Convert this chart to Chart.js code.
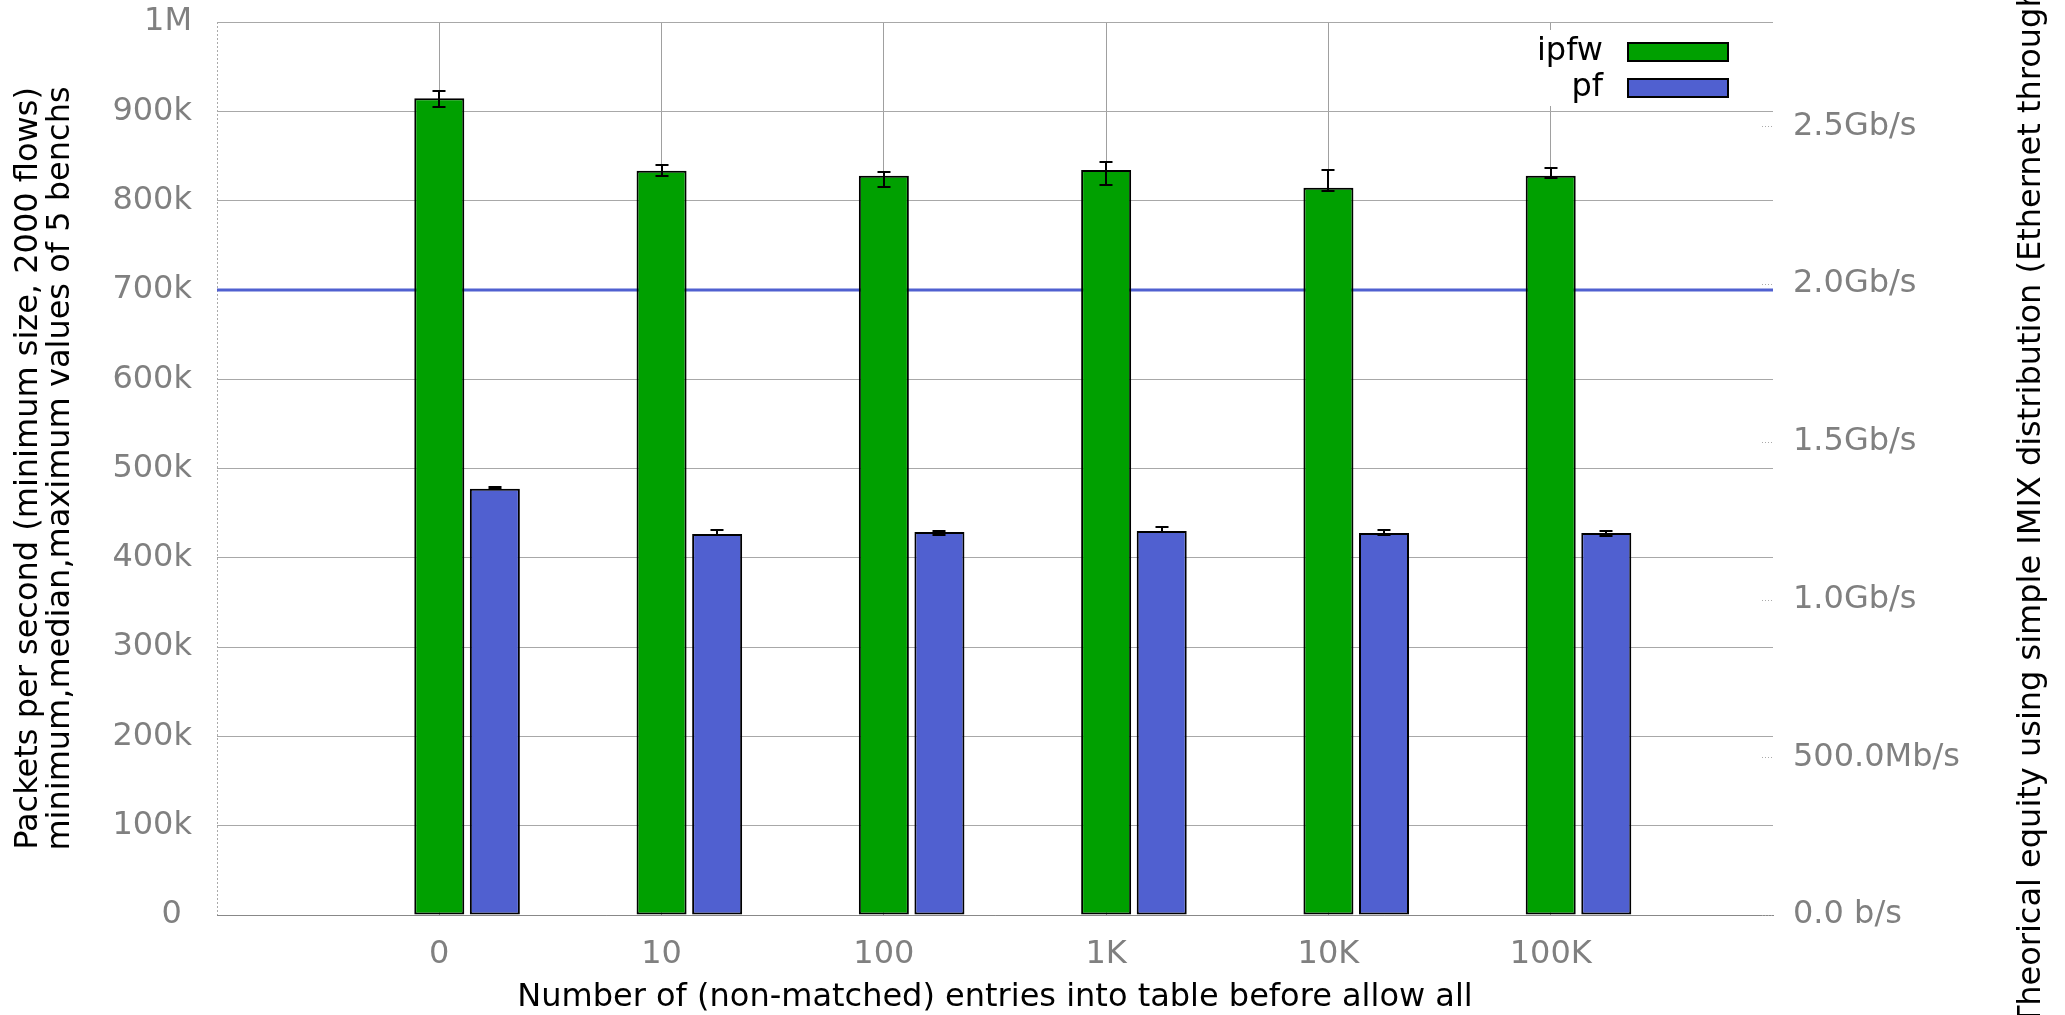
<!DOCTYPE html>
<html>
<head>
<meta charset="utf-8">
<script src="https://cdn.jsdelivr.net/npm/chart.js@4"></script>
<style>
  html, body { margin: 0; padding: 0; background: #fff; }
  canvas { display: block; }
</style>
</head>
<body>
<canvas id="chart" width="2065" height="1015"></canvas>
<script>
// table sizes (x axis)
const categories = ['0', '10', '100', '1K', '10K', '100K'];

// packets per second, median / min / max of 5 benchs
const ipfwMedian = [914600, 833500, 827900, 834300, 814500, 827900];
const ipfwMin    = [905200, 827900, 815600, 817500, 811100, 825600];
const ipfwMax    = [923100, 839500, 832400, 842900, 834300, 836900];
const pfMedian   = [477400, 426700, 428900, 430000, 427800, 427800];
const pfMin      = [477000, 425500, 425900, 429000, 425200, 424400];
const pfMax      = [478900, 431100, 430400, 434200, 431100, 430000];

const ppsTickLabels = ['0 ', '100k', '200k', '300k', '400k', '500k', '600k', '700k', '800k', '900k', '1M'];
const rateTickValues = [0, 0.5e9, 1e9, 1.5e9, 2e9, 2.5e9];
const rateTickLabels = ['0.0 b/s', '500.0Mb/s', '1.0Gb/s', '1.5Gb/s', '2.0Gb/s', '2.5Gb/s'];

const rateLimitPps = 700000;         // blue reference line
const imixBitsPerPacket = 2830.67;   // simple IMIX average frame size in bits

const GREEN = '#00a000';
const BLUE = '#5060d0';
const GRAY = '#808080';
const FONT = 'DejaVu Sans';
const pfShift = 0.25;

// fixed box sizes so the plot area lands where the original one is
function fixBox(size) {
  return s => {
    if (s.isHorizontal()) s.height = size; else s.width = size;
    s.paddingTop = 0; s.paddingBottom = 0; s.paddingLeft = 0; s.paddingRight = 0;
  };
}

const errorBars = {
  id: 'errorBars',
  afterDatasetsDraw(chart) {
    const ctx = chart.ctx;
    const y = chart.scales.y;
    ctx.save();
    ctx.strokeStyle = '#000';
    ctx.lineWidth = 2;
    chart.data.datasets.forEach((ds, d) => {
      const meta = chart.getDatasetMeta(d);
      meta.data.forEach((bar, i) => {
        const top = Math.round(y.getPixelForValue(ds.errMax[i]));
        const bot = Math.round(y.getPixelForValue(ds.errMin[i]));
        const x = Math.round(bar.x);
        ctx.beginPath();
        ctx.moveTo(x, top); ctx.lineTo(x, bot);
        ctx.moveTo(x - 6.5, top); ctx.lineTo(x + 6.5, top);
        ctx.moveTo(x - 6.5, bot); ctx.lineTo(x + 6.5, bot);
        ctx.stroke();
      });
    });
    ctx.restore();
  }
};

const refLine = {
  id: 'refLine',
  beforeDatasetsDraw(chart) {
    const {ctx, chartArea} = chart;
    ctx.save();
    // dotted left border of the plot
    ctx.strokeStyle = '#aaa';
    ctx.lineWidth = 1;
    ctx.setLineDash([2, 2]);
    ctx.beginPath();
    ctx.moveTo(chartArea.left + 0.5, chartArea.top);
    ctx.lineTo(chartArea.left + 0.5, chartArea.bottom);
    ctx.stroke();
    // small dotted marks for the right axis
    const y2 = chart.scales.y2;
    ctx.setLineDash([1, 2]);
    y2.ticks.forEach(t => {
      const py = Math.round(y2.getPixelForValue(t.value)) + 0.5;
      ctx.beginPath();
      ctx.moveTo(chartArea.right - 11, py);
      ctx.lineTo(chartArea.right, py);
      ctx.stroke();
    });
    ctx.setLineDash([]);
    const y = chart.scales.y.getPixelForValue(rateLimitPps);
    ctx.strokeStyle = BLUE;
    ctx.lineWidth = 3;
    ctx.beginPath();
    ctx.moveTo(chartArea.left, y);
    ctx.lineTo(chartArea.right, y);
    ctx.stroke();
    ctx.restore();
  }
};

const sideLegend = {
  id: 'sideLegend',
  afterDraw(chart) {
    const {ctx, chartArea} = chart;
    ctx.save();
    ctx.fillStyle = '#fff';
    ctx.fillRect(chartArea.right - 240, chartArea.top + 8, 208, 76);
    ctx.font = '32px "' + FONT + '"';
    ctx.textAlign = 'right';
    ctx.textBaseline = 'middle';
    chart.data.datasets.forEach((ds, d) => {
      const cy = chartArea.top + 30 + d * 36;
      ctx.fillStyle = '#000';
      ctx.fillText(ds.label, chartArea.right - 170, cy);
      ctx.fillStyle = ds.backgroundColor;
      ctx.fillRect(chartArea.right - 145, cy - 9, 100, 18);
      ctx.strokeStyle = '#000';
      ctx.lineWidth = 2;
      ctx.strokeRect(chartArea.right - 145, cy - 9, 100, 18);
    });
    // right axis title, reading bottom to top
    ctx.translate(2032, (chartArea.top + chartArea.bottom) / 2 + 5);
    ctx.rotate(-Math.PI / 2);
    ctx.textAlign = 'center';
    ctx.fillStyle = '#000';
    ctx.fillText('Theorical equity using simple IMIX distribution (Ethernet throughput)', 0, 0);
    ctx.restore();
  }
};

new Chart(document.getElementById('chart'), {
  type: 'bar',
  data: {
    datasets: [{
      label: 'ipfw',
      data: ipfwMedian.map((v, i) => ({x: i + 1, y: v})),
      errMin: ipfwMin,
      errMax: ipfwMax,
      backgroundColor: GREEN
    }, {
      label: 'pf',
      data: pfMedian.map((v, i) => ({x: i + 1 + pfShift, y: v})),
      errMin: pfMin,
      errMax: pfMax,
      backgroundColor: BLUE
    }]
  },
  options: {
    responsive: false,
    animation: false,
    layout: { padding: { top: 22, left: 0, right: 0, bottom: 0 } },
    datasets: {
      bar: {
        grouped: false,
        borderColor: '#000',
        borderWidth: 2,
        borderSkipped: false,
        categoryPercentage: 1,
        barPercentage: 0.9
      }
    },
    plugins: {
      legend: { display: false },
      tooltip: { enabled: false }
    },
    scales: {
      x: {
        type: 'linear',
        offset: false,
        min: 0,
        max: categories.length + 1,
        afterFit: fixBox(100),
        ticks: {
          stepSize: 1,
          padding: 20,
          color: GRAY,
          font: { family: FONT, size: 32 },
          callback: v => categories[v - 1] ?? ''
        },
        grid: {
          offset: false,
          drawTicks: false,
          color: c => (c.tick && c.tick.value >= 1 && c.tick.value <= categories.length) ? '#a0a0a0' : 'rgba(0,0,0,0)'
        },
        border: { color: '#888', width: 1 },
        title: {
          display: true,
          text: 'Number of (non-matched) entries into table before allow all',
          color: '#000',
          font: { family: FONT, size: 32, lineHeight: 1 },
          padding: { top: 0, bottom: 1 }
        }
      },
      y: {
        position: 'left',
        min: 0,
        max: 1000000,
        afterFit: fixBox(217),
        ticks: {
          stepSize: 100000,
          padding: 25,
          color: GRAY,
          font: { family: FONT, size: 32 },
          callback: (v, i) => ppsTickLabels[i]
        },
        grid: { drawTicks: false, color: '#a8a8a8' },
        border: { display: false },
        title: {
          display: true,
          text: ['Packets per second (minimum size, 2000 flows)', 'minimum,median,maximum values of 5 benchs'],
          color: '#000',
          font: { family: FONT, size: 32, lineHeight: 1 },
          padding: { top: 13, bottom: 0 }
        }
      },
      y2: {
        position: 'right',
        min: 0,
        max: 1000000 * imixBitsPerPacket,
        afterFit: fixBox(292),
        afterBuildTicks: s => { s.ticks = rateTickValues.map(v => ({value: v})); },
        ticks: {
          padding: 20,
          color: GRAY,
          font: { family: FONT, size: 32 },
          callback: (v, i) => rateTickLabels[i]
        },
        grid: { drawOnChartArea: false, drawTicks: false },
        border: { display: false }
      }
    }
  },
  plugins: [refLine, errorBars, sideLegend]
});
</script>
</body>
</html>
